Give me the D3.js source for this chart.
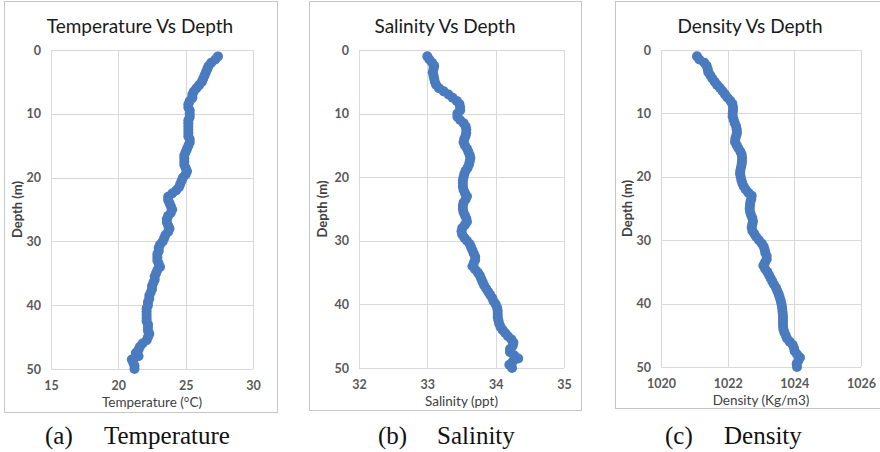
<!DOCTYPE html>
<html>
<head>
<meta charset="utf-8">
<script src="https://cdn.jsdelivr.net/npm/d3@7/dist/d3.min.js"></script>
<style>
  html, body { margin: 0; padding: 0; background: #ffffff; }
  svg { display: block; }
</style>
</head>
<body>
<svg id="chart" width="880" height="452"></svg>
<script>
// CTD profile: water depth (m) and the measured properties at each depth
const depth = [
  1, 1.5, 2, 2.5, 3, 3.5, 4, 4.5, 5, 5.5, 6, 6.5, 7, 7.5, 8, 8.5, 9, 9.5, 10, 10.5,
  11, 11.5, 12, 12.5, 13, 13.5, 14, 14.5, 15, 15.5, 16, 16.5, 17, 17.5, 18, 18.5, 19, 19.5, 20, 20.5,
  21, 21.5, 22, 22.5, 23, 23.5, 24, 24.5, 25, 25.5, 26, 26.5, 27, 27.5, 28, 28.5, 29, 29.5, 30, 30.5,
  31, 31.5, 32, 32.5, 33, 33.5, 34, 34.5, 35, 35.5, 36, 36.5, 37, 37.5, 38, 38.5, 39, 39.5, 40, 40.5,
  41, 41.5, 42, 42.5, 43, 43.5, 44, 44.5, 45, 45.5, 46, 46.5, 47, 47.5, 48, 48.5, 49, 49.5, 50
];

const temperature = [
  27.4, 27.2, 26.9, 26.7, 26.6, 26.5, 26.4, 26.3, 26.2, 26.0, 25.8, 25.6, 25.5, 25.5, 25.3, 25.2, 25.2, 25.3, 25.3, 25.3,
  25.2, 25.2, 25.2, 25.2, 25.2, 25.2, 25.3, 25.3, 25.2, 25.1, 25.0, 24.9, 24.9, 24.9, 24.9, 25.0, 25.1, 25.0, 24.8, 24.7,
  24.6, 24.5, 24.3, 24.0, 23.7, 23.7, 23.8, 23.9, 24.0, 23.9, 23.7, 23.6, 23.6, 23.7, 23.8, 23.7, 23.5, 23.4, 23.3, 23.1,
  23.0, 23.0, 22.9, 22.9, 22.9, 23.0, 23.1, 22.9, 22.8, 22.7, 22.7, 22.6, 22.5, 22.5, 22.4, 22.3, 22.3, 22.2, 22.2, 22.1,
  22.1, 22.1, 22.1, 22.1, 22.2, 22.2, 22.2, 22.3, 22.2, 22.1, 21.8, 21.6, 21.5, 21.3, 21.5, 21.0, 21.1, 21.2, 21.2
];

const salinity = [
  33.00, 33.03, 33.07, 33.10, 33.09, 33.08, 33.09, 33.10, 33.11, 33.13, 33.17, 33.24, 33.31, 33.37, 33.43, 33.47, 33.48, 33.48, 33.44, 33.44,
  33.48, 33.53, 33.56, 33.57, 33.57, 33.56, 33.54, 33.53, 33.55, 33.58, 33.60, 33.62, 33.63, 33.62, 33.61, 33.59, 33.56, 33.54, 33.53, 33.52,
  33.52, 33.52, 33.53, 33.55, 33.58, 33.56, 33.53, 33.52, 33.52, 33.53, 33.55, 33.57, 33.58, 33.55, 33.51, 33.50, 33.51, 33.54, 33.58, 33.62,
  33.64, 33.66, 33.68, 33.70, 33.70, 33.68, 33.66, 33.70, 33.74, 33.77, 33.79, 33.81, 33.83, 33.86, 33.89, 33.92, 33.95, 33.97, 34.00, 34.02,
  34.03, 34.03, 34.03, 34.04, 34.05, 34.07, 34.10, 34.14, 34.18, 34.23, 34.26, 34.25, 34.21, 34.21, 34.27, 34.33, 34.25, 34.20, 34.24
];

const density = [
  1021.08, 1021.15, 1021.30, 1021.37, 1021.40, 1021.42, 1021.48, 1021.54, 1021.61, 1021.68, 1021.77, 1021.85, 1021.92, 1021.99, 1022.08, 1022.14, 1022.16, 1022.16, 1022.15, 1022.15,
  1022.18, 1022.21, 1022.25, 1022.27, 1022.28, 1022.26, 1022.23, 1022.22, 1022.27, 1022.32, 1022.38, 1022.42, 1022.43, 1022.43, 1022.42, 1022.40, 1022.38, 1022.37, 1022.39, 1022.41,
  1022.44, 1022.48, 1022.54, 1022.62, 1022.72, 1022.71, 1022.68, 1022.67, 1022.66, 1022.67, 1022.70, 1022.74, 1022.76, 1022.74, 1022.72, 1022.74, 1022.80, 1022.86, 1022.94, 1023.02,
  1023.08, 1023.11, 1023.13, 1023.17, 1023.17, 1023.12, 1023.07, 1023.12, 1023.19, 1023.24, 1023.29, 1023.34, 1023.39, 1023.45, 1023.49, 1023.53, 1023.56, 1023.59, 1023.61, 1023.63,
  1023.64, 1023.65, 1023.66, 1023.66, 1023.66, 1023.66, 1023.67, 1023.70, 1023.74, 1023.78, 1023.86, 1023.95, 1023.99, 1024.01, 1024.08, 1024.17, 1024.12, 1024.07, 1024.08
];

const depthTicks = [0, 10, 20, 30, 40, 50];
const temperatureTicks = [15, 20, 25, 30];
const salinityTicks = [32, 33, 34, 35];
const densityTicks = [1020, 1022, 1024, 1026];

const panelTitles = ["Temperature Vs Depth", "Salinity Vs Depth", "Density Vs Depth"];
const xAxisTitles = ["Temperature (°C)", "Salinity (ppt)", "Density (Kg/m3)"];
const yAxisTitle = "Depth (m)";
const captionTags = ["(a)", "(b)", "(c)"];
const captionNames = ["Temperature", "Salinity", "Density"];

// Frame and plot-area geometry for each of the three panels
const layout = [
  { frame: [4.5, 1.5, 277.5, 412.5], plot: [51, 253, 50, 369], yTitleX: 17, capX: 45, titleX: 140 },
  { frame: [309.5, 1.5, 581.5, 410.5], plot: [359, 564, 50, 368], yTitleX: 322, capX: 378, titleX: 445 },
  { frame: [615.5, 1.5, 886, 408.5], plot: [661, 861, 50, 367], yTitleX: 627, capX: 665, titleX: 750 }
];

const panels = [
  { values: temperature, ticks: temperatureTicks },
  { values: salinity, ticks: salinityTicks },
  { values: density, ticks: densityTicks }
].map((p, i) => Object.assign(p, layout[i], {
  title: panelTitles[i], xTitle: xAxisTitles[i], tag: captionTags[i], name: captionNames[i]
}));

const svg = d3.select("#chart");
const uiFont = "Lato, 'Open Sans', sans-serif";
const gridColor = "#d9d9d9";
const labelColor = "#595959";
const markerColor = "#4a7bbf";

panels.forEach(p => {
  const [fx0, fy0, fx1, fy1] = p.frame;
  const [px0, px1, py0, py1] = p.plot;

  // chart frame
  svg.append("rect")
    .attr("x", fx0).attr("y", fy0)
    .attr("width", fx1 - fx0).attr("height", fy1 - fy0)
    .attr("fill", "#ffffff")
    .attr("stroke", "#c6c6c6").attr("stroke-width", 1);

  const x = d3.scaleLinear()
    .domain([p.ticks[0], p.ticks[p.ticks.length - 1]])
    .range([px0, px1]);
  const y = d3.scaleLinear().domain([0, 50]).range([py0, py1]);

  // vertical gridlines + value labels
  const xAxis = svg.append("g")
    .attr("transform", `translate(0,${py1})`)
    .call(d3.axisBottom(x).tickValues(p.ticks).tickSize(-(py1 - py0)).tickPadding(12).tickFormat(d3.format("d")));
  // horizontal gridlines + depth labels
  const yAxis = svg.append("g")
    .attr("transform", `translate(${px0},0)`)
    .call(d3.axisLeft(y).tickValues(depthTicks).tickSize(-(px1 - px0)).tickPadding(10).tickFormat(d3.format("d")));

  [xAxis, yAxis].forEach(g => {
    g.select(".domain").remove();
    g.selectAll(".tick line")
      .attr("stroke", gridColor).attr("stroke-width", 1)
      .attr("shape-rendering", "crispEdges");
    g.selectAll(".tick text")
      .attr("fill", labelColor)
      .style("font-family", uiFont)
      .style("font-size", "12.5px")
      .style("font-weight", "bold");
  });

  // profile markers
  svg.append("g")
    .selectAll("circle")
    .data(depth.map((d, i) => ({ d, v: p.values[i] })))
    .join("circle")
    .attr("cx", e => x(e.v))
    .attr("cy", e => y(e.d))
    .attr("r", 5)
    .attr("fill", markerColor);

  // panel title
  svg.append("text")
    .attr("x", p.titleX)
    .attr("y", 33)
    .attr("text-anchor", "middle")
    .attr("fill", "#1a1a1a")
    .style("font-family", uiFont)
    .style("font-size", "19px")
    .text(p.title);

  // x-axis title
  svg.append("text")
    .attr("x", (px0 + px1) / 2)
    .attr("y", py1 + 38)
    .attr("text-anchor", "middle")
    .attr("fill", "#404040")
    .style("font-family", uiFont)
    .style("font-size", "13.5px")
    .text(p.xTitle);

  // y-axis title
  svg.append("text")
    .attr("transform", `translate(${p.yTitleX + 5},${(py0 + py1) / 2}) rotate(-90)`)
    .attr("text-anchor", "middle")
    .attr("fill", "#404040")
    .style("font-family", uiFont)
    .style("font-size", "13px")
    .style("font-weight", "bold")
    .text(yAxisTitle);

  // caption below the panel
  const cap = svg.append("g").attr("fill", "#111111")
    .style("font-family", "'Liberation Serif', 'Times New Roman', serif")
    .style("font-size", "25px");
  cap.append("text").attr("x", p.capX).attr("y", 444).text(p.tag);
  cap.append("text").attr("x", p.capX + 59).attr("y", 444).text(p.name);
});
</script>
</body>
</html>
